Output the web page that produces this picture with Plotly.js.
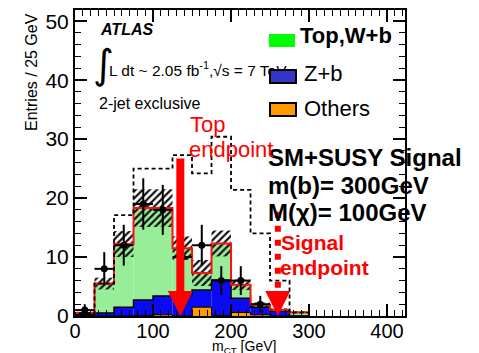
<!DOCTYPE html>
<html>
<head>
<meta charset="utf-8">
<script src="https://cdn.plot.ly/plotly-3.0.1.min.js"></script>
<style>html,body{margin:0;padding:0;background:#fff;}#chart{width:479px;height:353px;}</style>
</head>
<body>
<div id="chart"></div>
<script>
// ---- data ----
const binEdges = [0, 25, 50, 75, 100, 125, 150, 175, 200, 225, 250, 275, 300];
const topWb    = [0.3, 5.0, 10.7, 15.6, 14.9, 7.9, 2.9, 6.2, 2.3, 0.4, 0.2, 0.6];
const zB       = [0.2, 0.5, 1.5, 2.6, 3.2, 3.6, 2.9, 6.0, 2.4, 1.3, 0.8, 0.0];
const others   = [0.0, 0.0, 0.0, 0.1, 0.2, 0.0, 1.5, 0.1, 0.6, 0.2, 0.0, 0.0];
const sysErr   = [0.2, 1.0, 2.2, 3.2, 3.2, 2.0, 2.2, 2.2, 0.9, 0.4, 0.3, 0.2];
const smSusy   = [0.5, 5.5, 17.1, 25.0, 25.0, 27.3, 24.2, 30.4, 21.4, 14.0, 6.0, 0.6];
const dataCounts = [1, 8, 12, 19, 18, 10, 12, 6, 6, 2];
const topEndpoint = 135;     // GeV
const signalEndpoint = 260;  // GeV
const topArrowTop = 26.7, signalArrowTop = 17.7;
const xTicks = [0, 100, 200, 300, 400];
const yTicks = [0, 10, 20, 30, 40, 50];

// ---- derived ----
const nb = binEdges.length - 1;
const centers = binEdges.slice(0, nb).map((e, i) => (e + binEdges[i + 1]) / 2);
const widths = binEdges.slice(0, nb).map((e, i) => binEdges[i + 1] - e);
const blueTop = others.map((o, i) => o + zB[i]);
const total = blueTop.map((b, i) => b + topWb[i]);
function step(vals) {
  const x = [binEdges[0]].concat(binEdges.slice(0, nb)).concat([binEdges[nb]]);
  const y = [0].concat(vals).concat([0]);
  return {x, y};
}
const dataX = centers.slice(0, dataCounts.length);
const dataErr = dataCounts.map(v => Math.sqrt(v));
const dataXErr = widths.slice(0, dataCounts.length).map(w => w / 2);

const FONT = 'Liberation Sans, Arial, Helvetica, sans-serif';
const traces = [
  {type: 'bar', x: centers, y: total, width: widths, marker: {color: '#98EE98', line: {width: 0}}, hoverinfo: 'skip'},
  {type: 'bar', x: centers, y: blueTop, width: widths, marker: {color: '#0A0AF5', line: {width: 0}}, hoverinfo: 'skip'},
  {type: 'bar', x: centers, y: others, width: widths, marker: {color: '#FF9900', line: {width: 0}}, hoverinfo: 'skip'},
  {type: 'bar', x: centers, base: total.map((t, i) => t - sysErr[i]), y: sysErr.map(e => 2 * e), width: widths,
   marker: {color: 'rgba(0,0,0,0)', line: {width: 0},
            pattern: {shape: '/', fgcolor: '#111', bgcolor: 'rgba(0,0,0,0)', size: 5, solidity: 0.45}}, hoverinfo: 'skip'},
  Object.assign({type: 'scatter', mode: 'lines', line: {shape: 'hv', color: 'black', width: 1}}, step(others)),
  Object.assign({type: 'scatter', mode: 'lines', line: {shape: 'hv', color: 'black', width: 1.5}}, step(blueTop)),
  Object.assign({type: 'scatter', mode: 'lines', line: {shape: 'hv', color: '#FF1010', width: 2}}, step(total)),
  Object.assign({type: 'scatter', mode: 'lines', line: {shape: 'hv', color: 'black', width: 1.8, dash: '4px,3px'}}, step(smSusy)),
  {type: 'scatter', mode: 'markers', x: dataX, y: dataCounts,
   marker: {color: 'black', size: 7},
   error_y: {type: 'data', array: dataErr, color: 'black', thickness: 2, width: 0},
   error_x: {type: 'data', array: dataXErr, color: 'black', thickness: 2, width: 0}}
];

const px = v => (v - 75) / 330;
const py = v => (316 - v) / 306;

const annotations = [
  {xref: 'paper', yref: 'paper', x: px(98), y: py(29), xanchor: 'left', yanchor: 'middle', showarrow: false,
   text: 'ATLAS', font: {family: FONT, size: 16, weight: 'bold', style: 'italic', color: 'black'}},
  {xref: 'paper', yref: 'paper', x: px(91), y: py(64), xanchor: 'left', yanchor: 'middle', showarrow: false,
   text: '∫', font: {family: 'DejaVu Sans', size: 40, color: 'black'}},
  {xref: 'paper', yref: 'paper', x: px(107), y: py(69), xanchor: 'left', yanchor: 'middle', showarrow: false,
   text: 'L dt ~ 2.05 fb<sup>-1</sup>,√s = 7 TeV', font: {family: FONT, size: 15.5, color: 'black'}},
  {xref: 'paper', yref: 'paper', x: px(97), y: py(103), xanchor: 'left', yanchor: 'middle', showarrow: false,
   text: '2-jet exclusive', font: {family: FONT, size: 16, color: 'black'}},
  // legend swatches
  {xref: 'paper', yref: 'paper', x: px(269), y: py(40), xanchor: 'left', yanchor: 'middle', showarrow: false,
   text: '\u00a0', width: 26, height: 13, borderpad: 0, bgcolor: '#00FF00', borderwidth: 0},
  {xref: 'paper', yref: 'paper', x: px(269), y: py(76), xanchor: 'left', yanchor: 'middle', showarrow: false,
   text: '\u00a0', width: 24, height: 11, borderpad: 0, bgcolor: '#3434C8', bordercolor: 'black', borderwidth: 2},
  {xref: 'paper', yref: 'paper', x: px(269), y: py(110), xanchor: 'left', yanchor: 'middle', showarrow: false,
   text: '\u00a0', width: 24, height: 11, borderpad: 0, bgcolor: '#FF9900', bordercolor: 'black', borderwidth: 2},
  {xref: 'paper', yref: 'paper', x: px(298), y: py(35), xanchor: 'left', yanchor: 'middle', showarrow: false,
   text: 'Top,W+b', font: {family: FONT, size: 22, weight: 'bold', color: 'black'}},
  {xref: 'paper', yref: 'paper', x: px(302), y: py(73), xanchor: 'left', yanchor: 'middle', showarrow: false,
   text: 'Z+b', font: {family: FONT, size: 22, color: 'black'}},
  {xref: 'paper', yref: 'paper', x: px(302), y: py(109), xanchor: 'left', yanchor: 'middle', showarrow: false,
   text: 'Others', font: {family: FONT, size: 22, color: 'black'}},
  // signal text
  {xref: 'paper', yref: 'paper', x: px(266), y: py(157), xanchor: 'left', yanchor: 'middle', showarrow: false,
   text: 'SM+SUSY Signal', font: {family: FONT, size: 24, weight: 'bold', color: 'black'}},
  {xref: 'paper', yref: 'paper', x: px(266), y: py(185), xanchor: 'left', yanchor: 'middle', showarrow: false,
   text: 'm(b)= 300GeV', font: {family: FONT, size: 24, weight: 'bold', color: 'black'}},
  {xref: 'paper', yref: 'paper', x: px(266), y: py(212), xanchor: 'left', yanchor: 'middle', showarrow: false,
   text: 'M(χ)= 100GeV', font: {family: FONT, size: 24, weight: 'bold', color: 'black'}},
  // endpoints
  {xref: 'paper', yref: 'paper', x: px(188), y: py(124), xanchor: 'left', yanchor: 'middle', showarrow: false,
   text: 'Top', font: {family: FONT, size: 22, color: '#FF0000'}},
  {xref: 'paper', yref: 'paper', x: px(187), y: py(149), xanchor: 'left', yanchor: 'middle', showarrow: false,
   text: 'endpoint', font: {family: FONT, size: 22, color: '#FF0000'}},
  {xref: 'paper', yref: 'paper', x: px(279), y: py(242), xanchor: 'left', yanchor: 'middle', showarrow: false,
   text: 'Signal', font: {family: FONT, size: 21, weight: 'bold', color: '#FF0000'}},
  {xref: 'paper', yref: 'paper', x: px(278), y: py(267), xanchor: 'left', yanchor: 'middle', showarrow: false,
   text: 'endpoint', font: {family: FONT, size: 21, weight: 'bold', color: '#FF0000'}},
  // axis titles
  {xref: 'paper', yref: 'paper', x: px(32), y: py(72), xanchor: 'center', yanchor: 'middle', showarrow: false,
   textangle: -90, text: 'Entries / 25 GeV', font: {family: FONT, size: 16, color: 'black'}},
  {xref: 'paper', yref: 'paper', x: px(244), y: py(346.5), xanchor: 'center', yanchor: 'middle', showarrow: false,
   text: 'm<sub>CT</sub> [GeV]', font: {family: FONT, size: 14, color: 'black'}}
];

const shapes = [
  {type: 'line', xref: 'x', yref: 'y', x0: topEndpoint, x1: topEndpoint, y0: topArrowTop, y1: 3.5,
   line: {color: '#FF0000', width: 8}},
  {type: 'path', xref: 'x', yref: 'y', xsizemode: 'pixel', ysizemode: 'pixel', xanchor: topEndpoint, yanchor: 0,
   path: 'M-12.5,25 L12.5,25 L0,0 Z', fillcolor: '#FF0000', line: {width: 0}},
  {type: 'line', xref: 'x', yref: 'y', x0: signalEndpoint, x1: signalEndpoint, y0: signalArrowTop, y1: 4.2,
   line: {color: '#FF0000', width: 6, dash: '6px,8px'}},
  {type: 'path', xref: 'x', yref: 'y', xsizemode: 'pixel', ysizemode: 'pixel', xanchor: signalEndpoint, yanchor: 0,
   path: 'M-12.5,25 L12.5,25 L0,0 Z', fillcolor: '#FF0000', line: {width: 0}}
];

const axisCommon = {
  showline: true, linecolor: 'black', linewidth: 2, mirror: 'ticks',
  ticks: 'inside', ticklen: 12, tickwidth: 1.5, tickcolor: 'black',
  showgrid: false, zeroline: false, tickmode: 'array'
};

const layout = {
  width: 479, height: 353,
  margin: {l: 75, r: 74, t: 10, b: 37, pad: 0},
  paper_bgcolor: 'white', plot_bgcolor: 'white',
  showlegend: false, barmode: 'overlay',
  font: {family: FONT, color: 'black'},
  xaxis: Object.assign({}, axisCommon, {range: [0, 423], tickvals: xTicks, ticklabelstandoff: -4,
    tickfont: {family: FONT, size: 20, color: 'black'},
    minor: {tick0: 0, dtick: 10, ticks: 'inside', ticklen: 6, tickwidth: 1, tickcolor: 'black', showgrid: false}}),
  yaxis: Object.assign({}, axisCommon, {range: [0, 51.9], tickvals: yTicks,
    tickfont: {family: FONT, size: 21, color: 'black'},
    minor: {tick0: 0, dtick: 2, ticks: 'inside', ticklen: 6, tickwidth: 1, tickcolor: 'black', showgrid: false}}),
  annotations: annotations,
  shapes: shapes
};

Plotly.newPlot('chart', traces, layout, {staticPlot: true, displayModeBar: false});
</script>
</body>
</html>
